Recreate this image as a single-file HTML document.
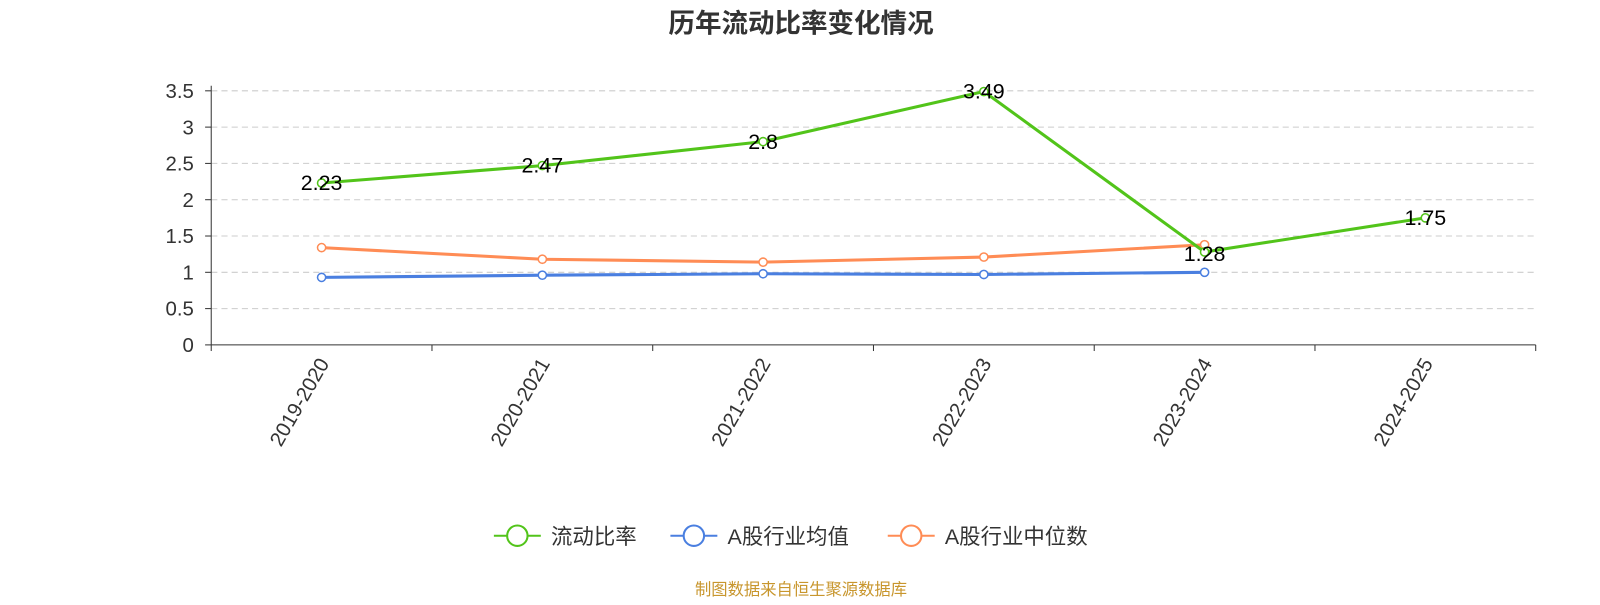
<!DOCTYPE html>
<html><head><meta charset="utf-8"><style>
body{margin:0;background:#fff;width:1600px;height:600px;overflow:hidden;font-family:"Liberation Sans","Noto Sans CJK SC",sans-serif;}
</style></head><body>
<svg id="chart" width="1600" height="600" viewBox="0 0 1568 588" xmlns="http://www.w3.org/2000/svg" font-family="Liberation Sans, Noto Sans CJK SC, sans-serif">
<text x="785" y="32" text-anchor="middle" font-size="26" font-weight="bold" fill="#333">历年流动比率变化情况</text>
<g id="grid"></g><g id="axes"></g><g id="series"></g>
<g font-size="21" fill="#333">
 <g><line x1="484" y1="525" x2="530" y2="525" stroke="#52c41a" stroke-width="2"/><circle cx="507" cy="525" r="10" fill="#fff" stroke="#52c41a" stroke-width="2"/><text x="540" y="533">流动比率</text></g>
 <g><line x1="657" y1="525" x2="703" y2="525" stroke="#4a7fe0" stroke-width="2"/><circle cx="680" cy="525" r="10" fill="#fff" stroke="#4a7fe0" stroke-width="2"/><text x="713" y="533">A股行业均值</text></g>
 <g><line x1="870" y1="525" x2="916" y2="525" stroke="#ff8c55" stroke-width="2"/><circle cx="893" cy="525" r="10" fill="#fff" stroke="#ff8c55" stroke-width="2"/><text x="926" y="533">A股行业中位数</text></g>
</g>
<text x="785" y="583" text-anchor="middle" font-size="16" fill="#c8962d">制图数据来自恒生聚源数据库</text>
</svg>
<script>
const categories=["2019-2020","2020-2021","2021-2022","2022-2023","2023-2024","2024-2025"];
const ratioValues=[2.23,2.47,2.8,3.49,1.28,1.75];
const meanValues=[0.93,0.96,0.98,0.97,1.0];
const medianValues=[1.34,1.18,1.14,1.21,1.38];
const yTicks=[0,0.5,1,1.5,2,2.5,3,3.5];
const NS="http://www.w3.org/2000/svg";
const L=207,R=1505,B=338,T=89,yMax=3.5;
const bw=(R-L)/categories.length;
const x=i=>L+bw*(i+0.5);
const y=v=>B-(v/yMax)*(B-T);
function mk(tag,attrs,parent){const e=document.createElementNS(NS,tag);for(const k in attrs)e.setAttribute(k,attrs[k]);parent.appendChild(e);return e;}
const grid=document.getElementById('grid'),axes=document.getElementById('axes'),ser=document.getElementById('series');
yTicks.forEach(t=>{
 if(t>0){const g=mk('line',{x1:L,x2:R,y1:y(t),y2:y(t),stroke:'#ccc','stroke-dasharray':'6,4'},grid);
 
 }
 const tl=mk('text',{x:L-17,y:y(t)+7,'text-anchor':'end','font-size':20,fill:'#333'},axes);tl.textContent=t;
 
 
 mk('line',{x1:L-6,x2:L,y1:y(t),y2:y(t),stroke:'#333'},axes);
});
const ya=mk('line',{x1:L,x2:L,y1:T-5,y2:B,stroke:'#333'},axes);


const xa=mk('line',{x1:L,x2:R,y1:B,y2:B,stroke:'#333'},axes);


for(let i=0;i<=categories.length;i++)mk('line',{x1:L+bw*i,x2:L+bw*i,y1:B,y2:B+6,stroke:'#333'},axes);
categories.forEach((c,i)=>{
 const t=mk('text',{x:x(i)+8,y:B+18,'text-anchor':'end','font-size':20,fill:'#333',transform:`rotate(-60 ${x(i)+8} ${B+18})`},axes);t.textContent=c;
 
 
});
function series(vals,color,name,labels){
 const g=mk('g',{},ser);
 
 
 mk('polyline',{points:vals.map((v,i)=>x(i)+','+y(v)).join(' '),fill:'none',stroke:color,'stroke-width':3},g);
 vals.forEach((v,i)=>{
  const p=mk('circle',{cx:x(i),cy:y(v),r:4,fill:'#fff',stroke:color,'stroke-width':1.5},g);
  
  
  if(labels){const t=mk('text',{x:x(i),y:y(v)+(v<1.5?9:7),'text-anchor':'middle','font-size':21,fill:'#000'},g);t.textContent=v;
  
  }
 });
}
series(meanValues,'#4a7fe0','industry-mean-line',false);
series(medianValues,'#ff8c55','industry-median-line',false);
series(ratioValues,'#52c41a','current-ratio-line',true);
</script>
</body></html>
